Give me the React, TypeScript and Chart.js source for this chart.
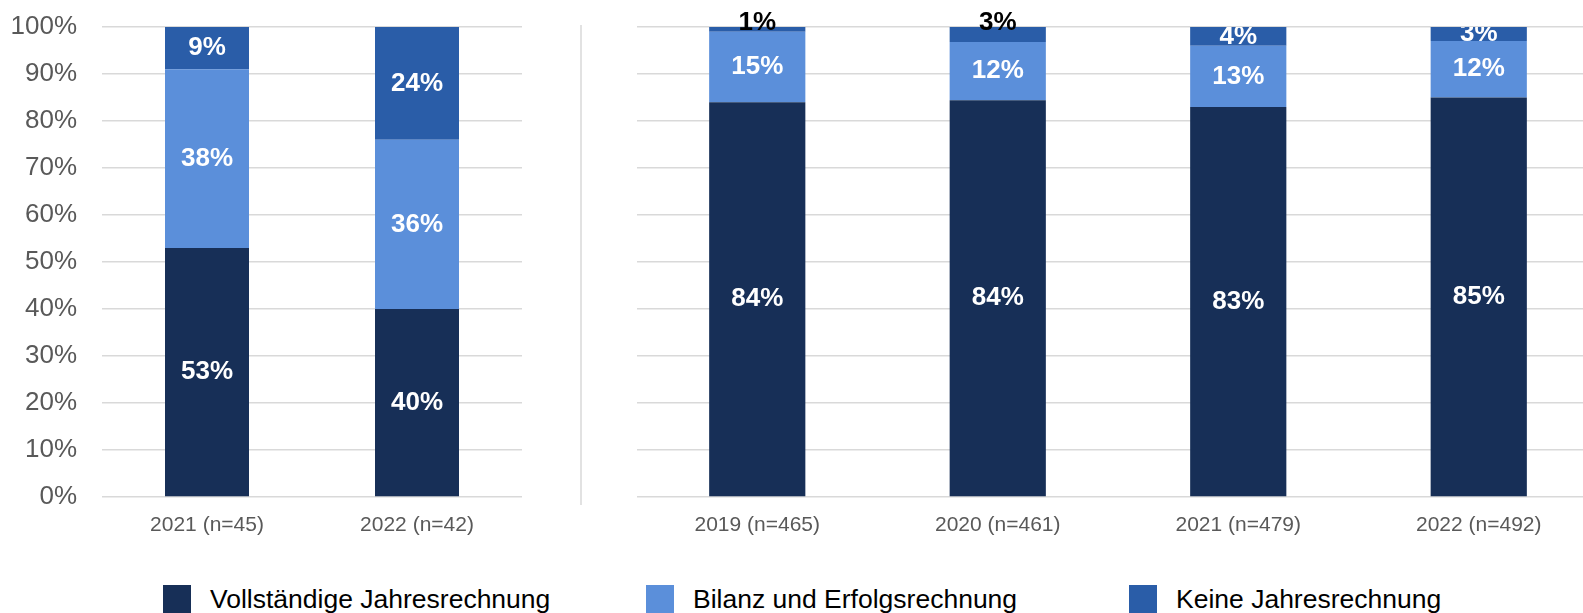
import React, { useEffect, useRef } from "react";
import { Chart, registerables } from "chart.js";

Chart.register(...registerables);

const FONT = '"Liberation Sans", Arial, Helvetica, sans-serif';

const seriesNames = ["Vollständige Jahresrechnung", "Bilanz und Erfolgsrechnung", "Keine Jahresrechnung"];
const seriesColors = ["#172F57", "#5B8FDA", "#2A5DA8"];

const leftCategories = ["2021 (n=45)", "2022 (n=42)"];
const leftVollstaendig = [53, 40];
const leftBilanz = [38, 36];
const leftKeine = [9, 24];

const rightCategories = ["2019 (n=465)", "2020 (n=461)", "2021 (n=479)", "2022 (n=492)"];
const rightVollstaendig = [84, 84.4, 83, 85];
const rightBilanz = [15, 12.4, 13, 12];
const rightKeine = [1, 3.2, 4, 3];

const yTickValues = [0, 10, 20, 30, 40, 50, 60, 70, 80, 90, 100];

// labels drawn above the bar (dataset:index) in the right panel
const rightOutsideLabels = ["2:0", "2:1"];

const GRID = "#D9D9D9";

function segLabelPlugin(outside: string[]) {
  const set = new Set(outside);
  return {
    id: "segLabels",
    afterDatasetsDraw(chart: any) {
      const ctx = chart.ctx;
      const area = chart.chartArea;
      chart.data.datasets.forEach((ds: any, di: number) => {
        const meta = chart.getDatasetMeta(di);
        meta.data.forEach((el: any, i: number) => {
          const v = ds.data[i] as number;
          const text = Math.round(v) + "%";
          const p = el.getProps(["x", "y", "base"], true);
          ctx.save();
          ctx.font = `bold 26px ${FONT}`;
          ctx.textAlign = "center";
          if (set.has(`${di}:${i}`)) {
            ctx.fillStyle = "#000000";
            ctx.textBaseline = "alphabetic";
            ctx.fillText(text, p.x, p.y + 3);
          } else {
            ctx.beginPath();
            ctx.rect(area.left, area.top, area.right - area.left, area.bottom - area.top);
            ctx.clip();
            ctx.fillStyle = "#FFFFFF";
            ctx.textBaseline = "middle";
            ctx.fillText(text, p.x, (p.y + p.base) / 2);
          }
          ctx.restore();
        });
      });
    },
  };
}

const separatorPlugin = {
  id: "separator",
  afterDraw(chart: any) {
    const ctx = chart.ctx;
    ctx.save();
    ctx.strokeStyle = GRID;
    ctx.lineWidth = 1.5;
    ctx.beginPath();
    ctx.moveTo(11, 25);
    ctx.lineTo(11, 505);
    ctx.stroke();
    ctx.restore();
  },
};

function buildData(categories: string[], a: number[], b: number[], c: number[]) {
  const vals = [a, b, c];
  return {
    labels: categories,
    datasets: seriesNames.map((name, i) => ({
      label: name,
      data: vals[i],
      backgroundColor: seriesColors[i],
      borderWidth: 0,
      categoryPercentage: 1,
      barPercentage: 0.4,
    })),
  };
}

function buildOptions(isLeft: boolean) {
  return {
    responsive: false,
    animation: false as const,
    devicePixelRatio: 1,
    layout: { padding: { top: 27, left: isLeft ? 0 : 67, right: 0, bottom: 0 } },
    plugins: {
      legend: { display: false },
      tooltip: { enabled: false },
      title: { display: false },
    },
    scales: {
      x: {
        stacked: true,
        grid: { display: false, drawTicks: false },
        border: { display: false },
        ticks: {
          padding: 16,
          color: "#595959",
          font: { family: FONT, size: 21 },
          maxRotation: 0,
        },
        afterFit: (s: any) => {
          s.height = 43;
        },
      },
      y: {
        stacked: true,
        min: 0,
        max: 100,
        afterBuildTicks: (s: any) => {
          s.ticks = yTickValues.map((v) => ({ value: v }));
        },
        grid: { color: GRID, lineWidth: 1.5, drawTicks: false },
        border: { display: false },
        ticks: {
          display: isLeft,
          padding: 25,
          color: "#595959",
          font: { family: FONT, size: 26 },
          callback: (v: any) => v + "%",
        },
        afterFit: (s: any) => {
          s.width = isLeft ? 102 : 0;
          s.paddingTop = 0;
          s.paddingBottom = 0;
        },
      },
    },
  };
}

function ChartCanvas(props: {
  width: number;
  height: number;
  left: number;
  isLeft: boolean;
}) {
  const ref = useRef<HTMLCanvasElement | null>(null);
  useEffect(() => {
    if (!ref.current) return;
    const data = props.isLeft
      ? buildData(leftCategories, leftVollstaendig, leftBilanz, leftKeine)
      : buildData(rightCategories, rightVollstaendig, rightBilanz, rightKeine);
    const plugins: any[] = [segLabelPlugin(props.isLeft ? [] : rightOutsideLabels)];
    if (!props.isLeft) plugins.push(separatorPlugin);
    const chart = new Chart(ref.current, {
      type: "bar",
      data: data as any,
      options: buildOptions(props.isLeft) as any,
      plugins,
    });
    return () => chart.destroy();
  }, []);
  return (
    <canvas
      ref={ref}
      width={props.width}
      height={props.height}
      style={{ position: "absolute", left: props.left, top: 0, width: props.width, height: props.height }}
    />
  );
}

const legendLefts = [163, 646, 1129];

export default function App() {
  return (
    <div
      style={{
        position: "fixed",
        left: 0,
        top: 0,
        width: 1583,
        height: 613,
        overflow: "hidden",
        background: "#FFFFFF",
      }}
    >
      <ChartCanvas width={522} height={540} left={0} isLeft={true} />
      <ChartCanvas width={1029} height={540} left={570} isLeft={false} />
      {seriesNames.map((name, i) => (
        <div
          key={name}
          style={{ position: "absolute", left: legendLefts[i], top: 585, height: 28, display: "flex", alignItems: "center" }}
        >
          <div style={{ width: 28, height: 28, background: seriesColors[i], flex: "0 0 auto" }} />
          <span
            style={{
              marginLeft: 19,
              fontFamily: FONT,
              fontSize: 26.5,
              color: "#000000",
              whiteSpace: "nowrap",
              lineHeight: "28px",
            }}
          >
            {name}
          </span>
        </div>
      ))}
    </div>
  );
}
